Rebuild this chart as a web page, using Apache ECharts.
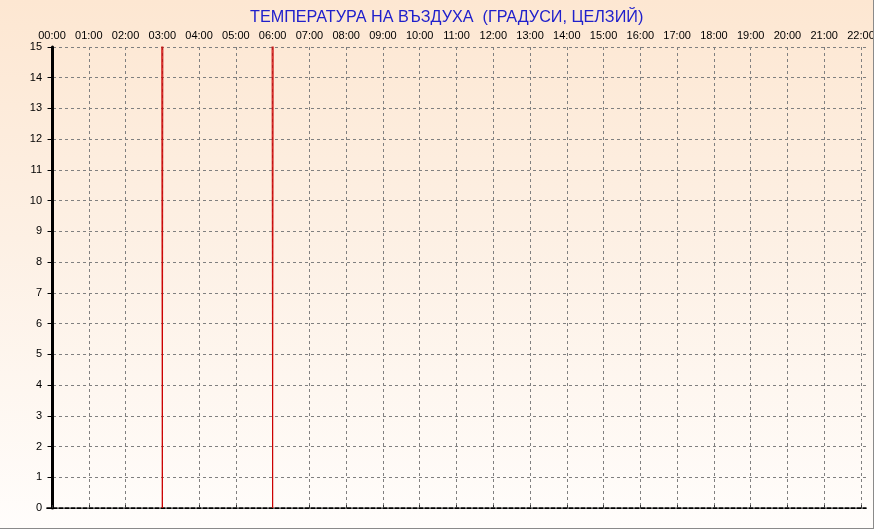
<!DOCTYPE html>
<html>
<head>
<meta charset="utf-8">
<script src="https://cdn.jsdelivr.net/npm/echarts@6/dist/echarts.min.js"></script>
<style>
html,body{margin:0;padding:0;}
#wrap{width:874px;height:529px;box-sizing:border-box;border-right:1px solid #8a8a8a;border-bottom:1px solid #8a8a8a;background:linear-gradient(to bottom,#fde7d2 0%,#fdf0e4 45%,#fffdfb 100%);}
#chart{width:873px;height:528px;}
</style>
</head>
<body>
<div id="wrap"><div id="chart"></div></div>
<script>
// Data
const titleText = 'ТЕМПЕРАТУРА НА ВЪЗДУХА  (ГРАДУСИ, ЦЕЛЗИЙ)';
const hourTicks = [0,1,2,3,4,5,6,7,8,9,10,11,12,13,14,15,16,17,18,19,20,21,22];
const times = ['02:59','03:00','03:01','05:59','06:00','06:01'];
const temps = [18, 0, 18, 18, 0, 18];

const toHours = t => { const p = t.split(':'); return +p[0] + (+p[1]) / 60; };
const seriesData = times.map((t, i) => [toHours(t), temps[i]]);
const fmtHour = v => (v < 10 ? '0' : '') + Math.round(v) + ':00';

const chart = echarts.init(document.getElementById('chart'), null, {renderer: 'canvas'});
const font = '"Liberation Sans", Arial, sans-serif';
chart.setOption({
  backgroundColor: 'transparent',
  animation: false,
  title: {
    text: titleText, left: 245, top: 5,
    textStyle: {color: '#2020cc', fontSize: 16.2, fontWeight: 'normal', fontFamily: font}
  },
  grid: {left: 47, right: 7, top: 47, bottom: 20, containLabel: false, outerBoundsMode: 'none'},
  xAxis: [{
    type: 'value', position: 'top', min: -0.136, max: 22.136,
    axisLine: {show: true, lineStyle: {color: '#000', width: 1.5, type: [4, 2]}},
    axisTick: {show: true, length: 3, customValues: hourTicks, lineStyle: {color: '#333'}},
    axisLabel: {customValues: hourTicks, formatter: fmtHour, color: '#000', fontSize: 11, fontFamily: font, margin: 6},
    splitLine: {show: true, lineStyle: {color: '#808080', width: 1, type: [3, 3]}}
  }, {
    type: 'value', position: 'bottom', min: -0.136, max: 22.136,
    axisLine: {show: true, lineStyle: {color: '#000', width: 1, type: [4, 2]}},
    axisTick: {show: false}, axisLabel: {show: false}, splitLine: {show: false}
  }],
  yAxis: [{
    type: 'value', min: 0, max: 15, interval: 1,
    axisLine: {show: true, lineStyle: {color: '#000', width: 3}},
    axisTick: {show: true, length: 4, lineStyle: {color: '#000'}},
    axisLabel: {color: '#000', fontSize: 11, fontFamily: font, margin: 5},
    splitLine: {show: true, lineStyle: {color: '#808080', width: 1, type: [3, 3]}}
  }, {
    type: 'value', position: 'right', min: 0, max: 15, interval: 1,
    axisLine: {show: true, lineStyle: {color: '#000', width: 1}},
    axisTick: {show: false}, axisLabel: {show: false}, splitLine: {show: false}
  }],
  series: [{
    type: 'line', xAxisIndex: 0, yAxisIndex: 0, data: seriesData,
    showSymbol: false, clip: true,
    lineStyle: {color: '#cc0000', width: 1}
  }]
});
</script>
</body>
</html>
